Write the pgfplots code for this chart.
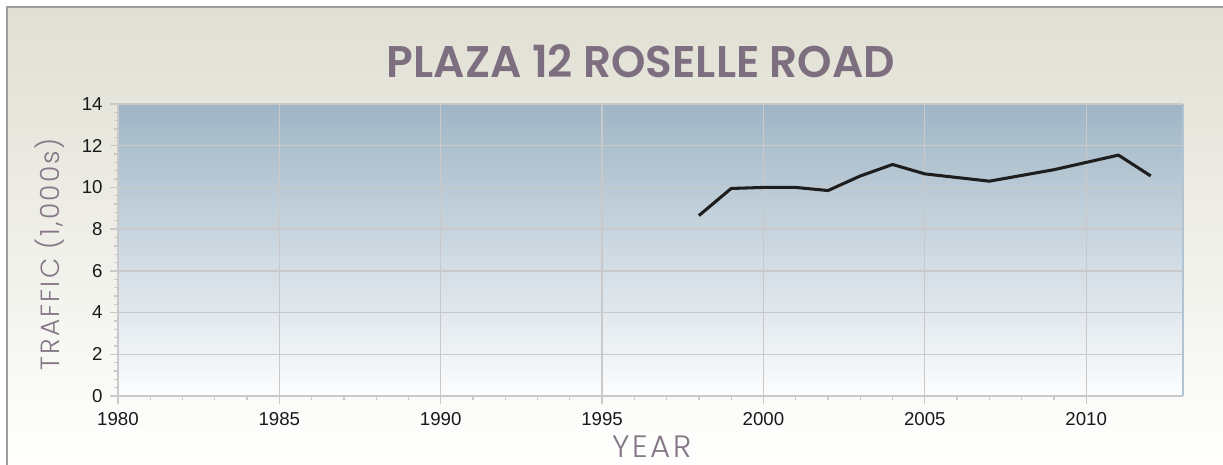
\documentclass[border=0pt]{standalone}
\usepackage{pgfplots}
\pgfplotsset{compat=1.18}
\usepackage{fontspec}
\setmainfont{Liberation Sans}
\newfontfamily\titlefont{Poppins SemiBold}
\newfontfamily\labelfont{Poppins Light}
\definecolor{bgtop}{HTML}{DFDFD3}
\definecolor{bgbot}{HTML}{FFFFFE}
\definecolor{pltop}{HTML}{9FB5C5}
\definecolor{plbot}{HTML}{FCFDFE}
\definecolor{gridc}{HTML}{C9C9C9}
\definecolor{titlec}{HTML}{7D6E80}
\definecolor{labc}{HTML}{857787}
\definecolor{linec}{HTML}{1E1E1E}
\begin{document}
\begin{tikzpicture}[x=0.75pt,y=-0.75pt]
\useasboundingbox (0,0) rectangle (1223,464);
\fill[white] (0,0) rectangle (1223,464);
\shade[top color=bgtop,bottom color=bgbot] (7,7) rectangle (1223,464);
\draw[color=black!38,line width=1.5pt] (7,470) -- (7,7) -- (1230,7);
\node[text=titlec,inner sep=0pt] at (641,61.5) {\resizebox{381pt}{24.75pt}{\titlefont PLAZA 12 ROSELLE ROAD}};
\node[text=labc,inner sep=0pt,rotate=90] at (50,254) {\resizebox{174pt}{!}{\labelfont\addfontfeature{LetterSpace=8}TRAFFIC (1,000s)}};
\node[text=labc,inner sep=0pt,anchor=north] at (652,436) {\resizebox{59pt}{!}{\labelfont\addfontfeature{LetterSpace=8}YEAR}};
\begin{axis}[
  at={(88.5pt,-297pt)}, anchor=south west,
  scale only axis, width=798.75pt, height=219pt,
  xmin=1980, xmax=2013, ymin=0, ymax=14,
  xtick={1980,1985,...,2010}, ytick={0,2,...,14},
  minor x tick num=4, minor y tick num=4,
  axis lines*=left,
  axis line style={draw=gridc,line width=1pt},
  tick align=outside,
  major tick length=6pt, minor tick length=3pt,
  every tick/.style={draw=gridc,line width=1pt},
  grid=major,
  major grid style={draw=gridc,line width=1pt},
  axis background/.style={top color=pltop,bottom color=plbot},
  /pgf/number format/assume math mode=true,
  /pgf/number format/1000 sep={},
  ticklabel style={font=\fontsize{14}{14}\selectfont,text=black!90},
  xticklabel style={yshift=-3pt},
  yticklabel style={xshift=-2pt},
  clip=false,
]
\addplot[linec,line width=2.3pt,line join=round] coordinates {
(1998,8.65) (1999,9.95) (2000,10.0) (2001,10.0) (2002,9.85) (2003,10.55)
(2004,11.1) (2005,10.65) (2007,10.3) (2009,10.85) (2011,11.55) (2012,10.55)
};
\draw[draw=pltop!80,line width=1pt] (rel axis cs:1,0) -- (rel axis cs:1,1);
\end{axis}
\end{tikzpicture}
\end{document}
